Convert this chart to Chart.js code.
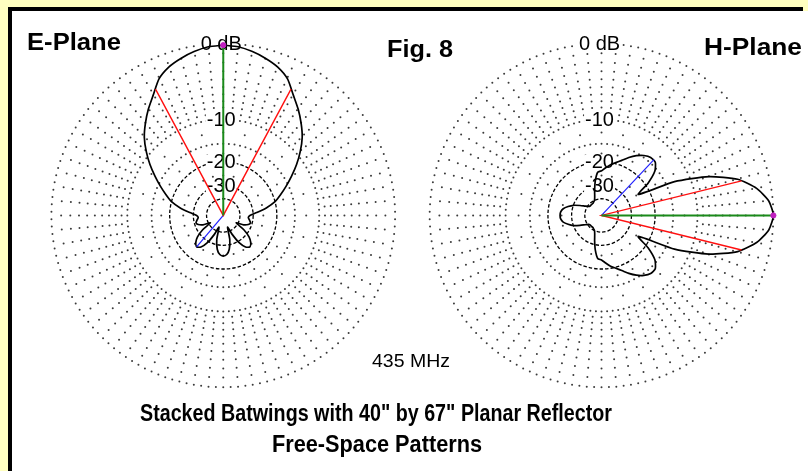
<!DOCTYPE html>
<html>
<head>
<meta charset="utf-8">
<title>Stacked Batwings with 40" by 67" Planar Reflector</title>
<script src="https://cdn.jsdelivr.net/npm/chart.js@4.4.1/dist/chart.umd.min.js"></script>
<style>
html,body{margin:0;padding:0;background:#FFFFC0;}
#box{position:relative;width:808px;height:471px;overflow:hidden;}
canvas{position:absolute;left:0;top:0;}
</style>
</head>
<body>
<div id="box"><canvas id="plot" width="808" height="471"></canvas></div>
<script>
// Pattern samples: angle in degrees clockwise from the top of each plot, gain in dB (0 dB = max)
const angleDeg = [
  0,5,10,15,20,25,30,35,40,45,50,55,60,65,70,75,80,85,
  90,95,100,105,110,115,120,125,130,135,140,145,150,155,160,165,170,175,
  180,185,190,195,200,205,210,215,220,225,230,235,240,245,250,255,260,265,
  270,275,280,285,290,295,300,305,310,315,320,325,330,335,340,345,350,355
];
const ePlaneDb = [
  0,-0.1,-0.4,-0.8,-1.3,-2.1,-3.5,-4.7,-6.0,-7.4,-9.2,-11.2,-13.4,-15.6,-17.8,-20.0,-23.5,-28.0,
  -32.0,-33.0,-32.0,-31.0,-32.0,-35.0,-42.0,-33.0,-28.0,-25.5,-24.4,-25.5,-29.0,-36.0,-45.0,-33.0,-27.5,-25.2,
  -24.6,-25.2,-27.5,-33.0,-45.0,-36.0,-29.0,-25.5,-24.4,-25.5,-28.0,-33.0,-42.0,-35.0,-32.0,-31.0,-32.0,-33.0,
  -32.0,-28.0,-23.5,-20.0,-17.8,-15.6,-13.4,-11.2,-9.2,-7.4,-6.0,-4.7,-3.5,-2.1,-1.3,-0.8,-0.4,-0.1
];
const hPlaneDb = [
  -23.0,-21.8,-20.5,-19.5,-18.3,-16.8,-15.5,-14.5,-13.9,-14.0,-15.5,-19.0,-24.0,-13.0,-7.0,-3.4,-1.5,-0.4,
  0,-0.4,-1.5,-3.4,-7.0,-13.0,-24.0,-19.0,-15.5,-14.0,-13.9,-14.5,-15.5,-16.8,-18.3,-19.5,-20.5,-21.8,
  -23.0,-23.5,-27.0,-32.0,-37.0,-40.0,-41.0,-42.0,-42.0,-42.0,-42.0,-41.0,-38.0,-34.0,-30.0,-27.5,-25.5,-24.6,
  -24.4,-24.6,-25.5,-27.5,-30.0,-34.0,-38.0,-41.0,-42.0,-42.0,-42.0,-42.0,-41.0,-40.0,-37.0,-32.0,-27.0,-23.5
];

// Marker lines: max gain (green), -3 dB beamwidth (red), strongest side lobe (blue)
const eMaxAngle = 0,   eMaxDb = 0;
const eBeamAngles = [-28, 28], eBeamDb = -3;
const eLobeAngle = 220, eLobeDb = -24.4;
const hMaxAngle = 90,  hMaxDb = 0;
const hBeamAngles = [76, 104], hBeamDb = -3;
const hLobeAngle = 43, hLobeDb = -13.8;

// Grid rings (dB): light dotted ones and dark dashed ones, plus the labelled levels
const dottedRingDb = [0, -10, -15];
const dashedRingDb = [-20, -30, -40];
const ringLabelDb = [0, -10, -20, -30];
const ringLabelText = ['0 dB', '-10', '-20', '-30'];

// ---- layout (pixels) ----
const W = 808, H = 471;
const CX_E = 221, CX_H = 604, CY = 215, R = 174;
const cE = 0, cH = (CX_H - CX_E) / R;   // plot centres in axis units (1 unit = outer ring radius)

// ARRL log-periodic radial scale: 0.89 of the radius per 2 dB
const rho = db => Math.pow(0.89, -db / 2);
const toXY = (cx, deg, db) => {
  const t = deg * Math.PI / 180, r = rho(db);
  return { x: cx + r * Math.sin(t), y: r * Math.cos(t) };
};
const patternPoints = (cx, dbs) => {
  const pts = angleDeg.map((a, i) => toXY(cx, a, dbs[i]));
  pts.push(pts[0]);
  return pts;
};

const datasets = [
  { label: 'E max', data: [toXY(cE, eMaxAngle, eMaxDb)], showLine: false, pointRadius: 2.6,
    pointBackgroundColor: '#C020C0', pointBorderColor: '#C020C0', order: 0 },
  { label: 'H max', data: [toXY(cH, hMaxAngle, hMaxDb)], showLine: false, pointRadius: 2.6,
    pointBackgroundColor: '#C020C0', pointBorderColor: '#C020C0', order: 0 },
  { label: 'E gain', data: [{x: cE, y: 0}, toXY(cE, eMaxAngle, eMaxDb)], borderColor: '#1A8A1A', borderWidth: 2, order: 1 },
  { label: 'H gain', data: [{x: cH, y: 0}, toXY(cH, hMaxAngle, hMaxDb)], borderColor: '#1A8A1A', borderWidth: 2, order: 1 },
  { label: 'E beam', data: [toXY(cE, eBeamAngles[0], eBeamDb), {x: cE, y: 0}, toXY(cE, eBeamAngles[1], eBeamDb)],
    borderColor: '#FF1010', borderWidth: 1.4, order: 2 },
  { label: 'H beam', data: [toXY(cH, hBeamAngles[0], hBeamDb), {x: cH, y: 0}, toXY(cH, hBeamAngles[1], hBeamDb)],
    borderColor: '#FF1010', borderWidth: 1.4, order: 2 },
  { label: 'E lobe', data: [{x: cE, y: 0}, toXY(cE, eLobeAngle, eLobeDb)], borderColor: '#2020FF', borderWidth: 1.2, order: 2 },
  { label: 'H lobe', data: [{x: cH, y: 0}, toXY(cH, hLobeAngle, hLobeDb)], borderColor: '#2020FF', borderWidth: 1.2, order: 2 },
  { label: 'E-Plane', data: patternPoints(cE, ePlaneDb), borderColor: '#000', borderWidth: 1.7, tension: 0.2, order: 3 },
  { label: 'H-Plane', data: patternPoints(cH, hPlaneDb), borderColor: '#000', borderWidth: 1.7, tension: 0.2, order: 3 }
];
datasets.forEach(d => { d.showLine = d.showLine !== false; if (d.pointRadius === undefined) d.pointRadius = 0; d.fill = false; });

// Fit a text string into a given width (horizontal squeeze only)
function fitText(ctx, text, font, left, baseline, width) {
  ctx.save();
  ctx.font = font;
  const w = ctx.measureText(text).width;
  ctx.translate(left, baseline);
  ctx.scale(width / w, 1);
  ctx.textAlign = 'left';
  ctx.textBaseline = 'alphabetic';
  ctx.fillText(text, 0, 0);
  ctx.restore();
}

const frame = {
  id: 'frame',
  beforeDraw(chart) {
    const ctx = chart.ctx;
    ctx.save();
    ctx.fillStyle = '#FFFFC0';
    ctx.fillRect(0, 0, W, H);
    ctx.fillStyle = '#FFFFFF';
    ctx.fillRect(12, 11, W - 12, H - 11);
    ctx.fillStyle = '#000';
    ctx.fillRect(8, 7, 795, 4);
    ctx.fillRect(8, 7, 4, H - 7);
    ctx.restore();
  }
};

const polarGrid = {
  id: 'polarGrid',
  beforeDatasetsDraw(chart) {
    const { ctx, scales: { x, y } } = chart;
    const dot = (px, py) => { ctx.beginPath(); ctx.arc(px, py, 1.0, 0, Math.PI * 2); ctx.fill(); };
    for (const c of [cE, cH]) {
      const px = x.getPixelForValue(c), py = y.getPixelForValue(0);
      const rpx = x.getPixelForValue(c + 1) - px;
      ctx.save();
      ctx.fillStyle = '#3A3A3A';
      // light rings: dots roughly 6-7 px apart along the circle
      for (const db of dottedRingDb) {
        const r = rho(db) * rpx;
        const n = Math.round(2 * Math.PI * r / (db === 0 ? 7.4 : 5.6));
        for (let k = 0; k < n; k++) {
          const t = 2 * Math.PI * k / n;
          dot(px + r * Math.sin(t), py - r * Math.cos(t));
        }
      }
      // radials: 5 degree spokes with 1 dB dots between 0 and -10 dB
      for (let a = 0; a < 360; a += 5) {
        const t = a * Math.PI / 180;
        for (let db = -1; db >= -9; db--) {
          const r = rho(db) * rpx;
          dot(px + r * Math.sin(t), py - r * Math.cos(t));
        }
      }
      // 15 degree spokes inside -10 dB
      for (let a = 0; a < 360; a += 15) {
        const t = a * Math.PI / 180;
        for (const db of [-12.5, -17.5, -25]) {
          const r = rho(db) * rpx;
          dot(px + r * Math.sin(t), py - r * Math.cos(t));
        }
      }
      // dark dashed inner rings
      ctx.strokeStyle = '#000';
      ctx.lineWidth = 1.3;
      ctx.setLineDash([3.5, 2]);
      for (const db of dashedRingDb) {
        ctx.beginPath();
        ctx.arc(px, py, rho(db) * rpx, 0, Math.PI * 2);
        ctx.stroke();
      }
      ctx.setLineDash([]);
      // ring labels on the vertical axis
      ctx.font = '20px "Liberation Sans", Arial, sans-serif';
      ctx.textAlign = 'center';
      ctx.textBaseline = 'middle';
      ringLabelDb.forEach((db, i) => {
        const ly = py - rho(db) * rpx;
        const tw = ctx.measureText(ringLabelText[i]).width;
        ctx.fillStyle = '#FFFFFF';
        ctx.fillRect(px - 2 - tw / 2 - 1, ly - 7, tw + 2, 15);
        ctx.fillStyle = '#000';
        ctx.fillText(ringLabelText[i], px - 2, ly + 1);
      });
      ctx.restore();
    }
  }
};

const captions = {
  id: 'captions',
  afterDraw(chart) {
    const ctx = chart.ctx;
    ctx.save();
    ctx.fillStyle = '#000';
    const bold = 'bold 24px "Liberation Sans", Arial, sans-serif';
    fitText(ctx, 'E-Plane', bold, 27, 50, 94);
    fitText(ctx, 'Fig. 8', bold, 387, 57, 66);
    fitText(ctx, 'H-Plane', bold, 704, 55, 98);
    fitText(ctx, '435 MHz', '19px "Liberation Sans", Arial, sans-serif', 372, 367, 78);
    const ttl = 'bold 23px "Liberation Sans Narrow", "Liberation Sans", Arial, sans-serif';
    fitText(ctx, 'Stacked Batwings with 40" by 67" Planar Reflector', ttl, 140, 421, 472);
    fitText(ctx, 'Free-Space Patterns', ttl, 272, 452, 210);
    ctx.restore();
  }
};

new Chart(document.getElementById('plot'), {
  type: 'scatter',
  data: { datasets },
  options: {
    responsive: false,
    devicePixelRatio: 1,
    animation: false,
    layout: { padding: 0 },
    plugins: { legend: { display: false }, tooltip: { enabled: false } },
    scales: {
      x: { type: 'linear', display: false, min: -CX_E / R, max: (W - CX_E) / R },
      y: { type: 'linear', display: false, min: (CY - H) / R, max: CY / R }
    }
  },
  plugins: [frame, polarGrid, captions]
});
</script>
</body>
</html>
